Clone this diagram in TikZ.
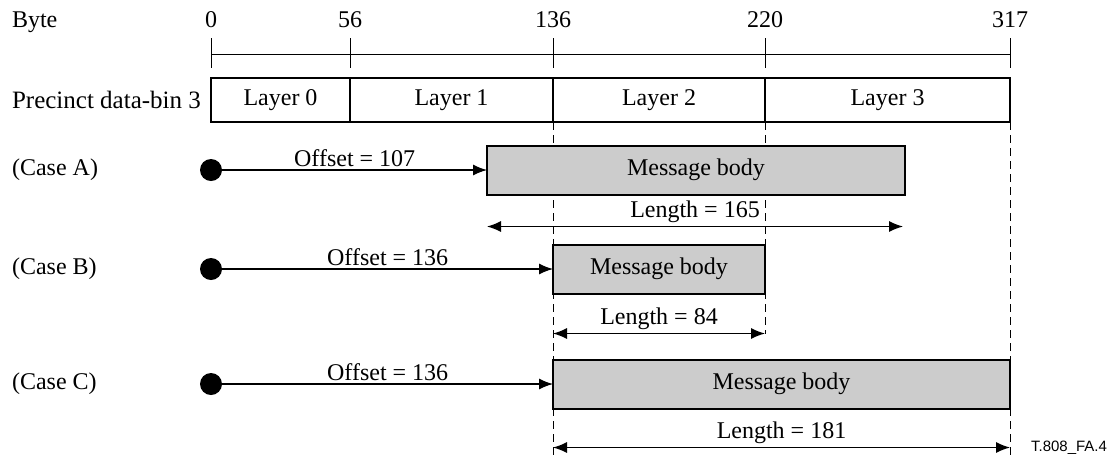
\documentclass[tikz,border=0pt]{standalone}
\usepackage{fontspec}
\setmainfont{Liberation Serif}
\newfontfamily\figsans{Liberation Sans}
\usetikzlibrary{positioning, arrows.meta, backgrounds}
\tikzset{layer/.style={draw, line width=1pt, minimum height=22pt, inner sep=0pt, outer sep=0pt},
body/.style={draw, line width=1pt, fill=gray!40, minimum height=24.5pt, inner sep=0pt, outer sep=0pt},
dot/.style={circle, fill=black, minimum size=11pt, inner sep=0pt},
line/.style={line width=0.6pt, -{Latex[length=7pt,width=5.5pt]}},
dim/.style={line width=0.6pt, {Latex[length=7pt,width=5.5pt]}-{Latex[length=7pt,width=5.5pt]}},
lab/.style={above, inner sep=1.5pt},
guide/.style={thin, dash pattern=on 4pt off 2.5pt}
}

\begin{document}
\begin{tikzpicture}[x=0.5pt, y=-0.5pt, font=\fontsize{12}{14}\selectfont]
\useasboundingbox (0,0) rectangle (1118,457);

% byte scale
\node[anchor=base west] (byte) at (5,27) {Byte};
\draw[thin] (211,54) -- (1010,54);
\foreach \x/\b in {211/0, 350/56, 553/136, 765/220, 1010/317} {
  \node[anchor=base] (t\b) at (\x,27) {\b};
  \draw[thin] (\x,38) -- (\x,68);
}

% data-bin
\node[anchor=west, font=\fontsize{12.5}{14}\selectfont] (bin) at (5,100) {Precinct data-bin 3};
\node[layer, minimum width=69.5pt] (l0) at (280.5,100) {Layer 0};
\node[layer, minimum width=101.5pt] (l1) at (451.5,100) {Layer 1};
\node[layer, minimum width=106pt] (l2) at (659,100) {Layer 2};
\node[layer, minimum width=122.5pt] (l3) at (887.5,100) {Layer 3};

% cases
\node[anchor=west] (caseA) at (5,170) {(Case A)};
\node[dot] (dA) at (211,170) {};
\node[body, minimum width=209pt] (bA) at (696,170) {Message body};

\node[anchor=west] (caseB) at (5,269) {(Case B)};
\node[dot] (dB) at (211,269) {};
\node[body, minimum width=106pt] (bB) at (659,269) {Message body};

\node[anchor=west] (caseC) at (5,384) {(Case C)};
\node[dot] (dC) at (211,384) {};
\node[body, minimum width=228.5pt] (bC) at (781.5,384) {Message body};

\draw[line] (dA) -- node[lab] {Offset = 107} (bA);
\draw[line] (dB) -- node[lab] {Offset = 136} (bB);
\draw[line] (dC) -- node[lab] {Offset = 136} (bC);

\coordinate (lenA1) at ([yshift=-16pt]bA.south west);
\coordinate (lenA2) at ([xshift=-1pt, yshift=-16pt]bA.south east);
\coordinate (lenB1) at ([yshift=-20pt]bB.south west);
\coordinate (lenB2) at ([yshift=-20pt]bB.south east);
\coordinate (lenC1) at ([yshift=-19.5pt]bC.south west);
\coordinate (lenC2) at ([yshift=-19.5pt]bC.south east);
\draw[dim] (lenA1) -- node[lab] {Length = 165} (lenA2);
\draw[dim] (lenB1) -- node[lab] {Length = 84} (lenB2);
\draw[dim] (lenC1) -- node[lab] {Length = 181} (lenC2);

\node[anchor=east, font=\figsans\fontsize{7.5}{9}\selectfont] (tag) at (1114,448) {T.808\_FA.4};

% guide lines
\coordinate (bot) at (0,455);
\begin{scope}[on background layer]
\draw[guide] (l2.south west) -- (l2.south west |- bot);
\draw[guide] (l2.south east) -- (l2.south east |- lenB2);
\draw[guide] (l3.south east) -- (l3.south east |- bot);
\end{scope}
\end{tikzpicture}
\end{document}
